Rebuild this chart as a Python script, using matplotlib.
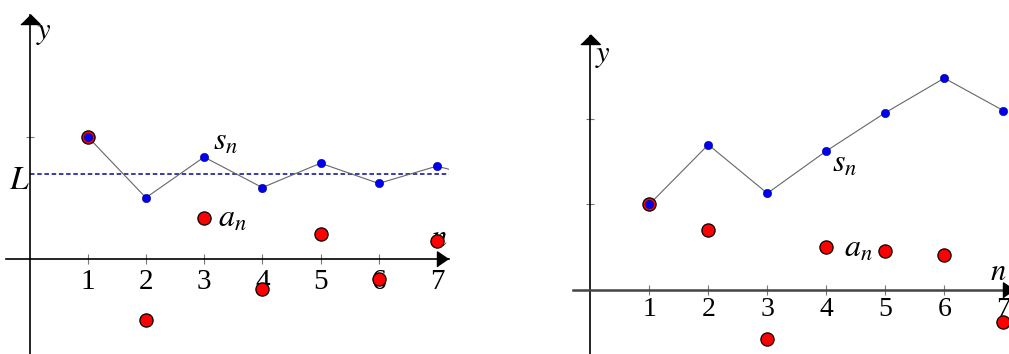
import matplotlib
matplotlib.use("Agg")
import matplotlib.pyplot as plt

plt.rcParams["mathtext.fontset"] = "stix"
plt.rcParams["font.family"] = ["Liberation Serif", "DejaVu Serif"]

# left panel: alternating series converging to L
n_left = [1, 2, 3, 4, 5, 6, 7, 8]
s_left = [1.0, 0.5, 0.833, 0.583, 0.783, 0.617, 0.759, 0.634]
a_left = [1.0, -0.5, 0.333, -0.25, 0.2, -0.167, 0.143]
L_value = 0.693

# right panel: partial sums growing
n_right = [1, 2, 3, 4, 5, 6, 7]
s_right = [1.0, 1.70, 1.13, 1.626, 2.075, 2.48, 2.10]
a_right = [1.0, 0.70, -0.58, 0.50, 0.45, 0.41, -0.38]

tick_labels = ["1", "2", "3", "4", "5", "6", "7"]

W, H = 1009, 354
fig = plt.figure(figsize=(W / 100, H / 100), dpi=100)

UP = [(-1, 0), (1, 0), (0, 1)]
RIGHT = [(0, -0.68), (0, 0.68), (1, 0)]


def panel(x0, y0, ux, uy, xlim, ylim, yarrow, xarrow):
    # x0, y0 = pixel position of the origin, ux/uy = pixels per unit
    left = x0 + xlim[0] * ux
    top = y0 - ylim[1] * uy
    w = (xlim[1] - xlim[0]) * ux
    h = (ylim[1] - ylim[0]) * uy
    ax = fig.add_axes([left / W, 1 - (top + h) / H, w / W, h / H])
    ax.set_xlim(xlim)
    ax.set_ylim(ylim)
    ax.patch.set_alpha(0)
    for side in ["top", "right"]:
        ax.spines[side].set_visible(False)
    ax.spines["left"].set_position(("data", 0))
    ax.spines["bottom"].set_position(("data", 0))
    ax.spines["left"].set_linewidth(1.2)
    ax.spines["bottom"].set_linewidth(1.2)
    ax.tick_params(axis="x", direction="inout", length=7, width=0.8,
                   color="#777777", labelsize=21, pad=4)
    ax.tick_params(axis="y", direction="inout", length=6, width=0.8,
                   color="#777777", labelleft=False)
    # arrow heads
    ax.plot([0], [yarrow], marker=UP, markersize=14, color="black",
            clip_on=False, zorder=6)
    ax.plot([xarrow], [0], marker=RIGHT, markersize=16, color="black",
            clip_on=False, zorder=6)
    return ax


# ---- left ----
ax1 = panel(29.5, 258.7, 58.2, 122.0, (-0.4, 7.2), (-0.78, 2.0), 1.925, 7.0)
ax1.set_xticks(n_left[:7])
ax1.set_xticklabels(tick_labels)
ax1.set_yticks([1])
ax1.plot([0, 7.2], [L_value, L_value], color="#2b2ba8", lw=1.3, ls=(0, (2.5, 1.5)), zorder=2)
ax1.plot(n_left, s_left, color="#666666", lw=0.8, zorder=3)
ax1.plot(n_left[:7], a_left, "o", color="red", markeredgecolor="black",
         markeredgewidth=0.9, markersize=9.5, zorder=5)
ax1.plot(n_left, s_left, "o", color="#0000ee", markeredgecolor="#000088",
         markeredgewidth=0.4, markersize=6, zorder=7)
ax1.text(-0.35, L_value - 0.05, "$L$", fontsize=24, va="center", ha="left")
ax1.text(0.11, 1.97, "$y$", fontsize=22, va="top", ha="left")
ax1.text(3.15, 0.89, "$s_n$", fontsize=23, va="baseline", ha="left")
ax1.text(3.24, 0.26, "$a_n$", fontsize=23, va="baseline", ha="left")
ax1.text(6.9, 0.1, "$n$", fontsize=22, va="baseline", ha="left", zorder=4)

# ---- right ----
ax2 = panel(590.3, 289.7, 59.0, 85.3, (-0.3, 7.1), (-0.75, 2.98), 2.88, 7.0)
ax2.set_xticks(n_right)
ax2.set_xticklabels(tick_labels)
ax2.tick_params(axis="x", labelsize=20, pad=2)
ax2.set_yticks([1, 2])
ax2.spines["bottom"].set_color("#444444")
ax2.spines["bottom"].set_linewidth(1.8)
ax2.plot(n_right, s_right, color="#666666", lw=0.8, zorder=3)
ax2.plot(n_right, a_right, "o", color="red", markeredgecolor="black",
         markeredgewidth=0.9, markersize=9.5, zorder=5)
ax2.plot(n_right, s_right, "o", color="#0000ee", markeredgecolor="#000088",
         markeredgewidth=0.4, markersize=6, zorder=7)
ax2.text(0.08, 2.91, "$y$", fontsize=22, va="top", ha="left")
ax2.text(4.09, 1.38, "$s_n$", fontsize=23, va="baseline", ha="left")
ax2.text(4.3, 0.39, "$a_n$", fontsize=23, va="baseline", ha="left")
ax2.text(6.78, 0.11, "$n$", fontsize=22, va="baseline", ha="left", zorder=4)

fig.savefig("out.png", dpi=100)
